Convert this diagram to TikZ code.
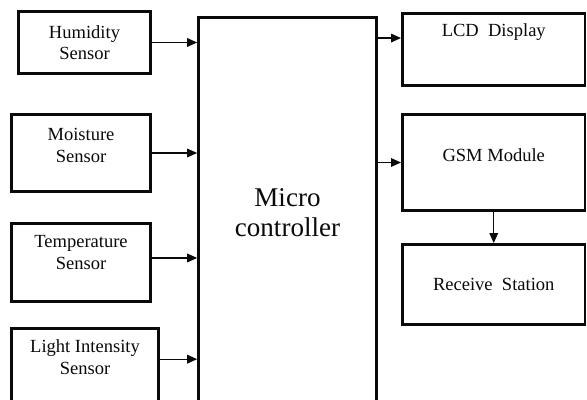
\documentclass[tikz,border=0pt]{standalone}
\usepackage{fontspec}
\setmainfont{Liberation Serif}
\usetikzlibrary{
    arrows.meta,
    positioning
}
\definecolor{ink}{RGB}{10,10,10}
\tikzset{
    block/.style={
        rectangle,
        draw=ink,
        line width=2.2pt,
        fill=white,
        inner sep=0pt,
        align=center,
        text=ink,
        font=\fontsize{13.9}{16}\selectfont
    },
    blocktext/.style={
        align=center,
        text=ink,
        font=\fontsize{13.9}{16}\selectfont
    },
    mcu/.style={
        block,
        line width=2pt,
        font=\fontsize{20.3}{22.5}\selectfont
    },
    link/.style={
        -{Triangle[length=7.5pt,width=6.5pt]},
        draw=ink,
        line width=0.9pt
    }
}

\begin{document}
\begin{tikzpicture}[x=0.75pt, y=-0.75pt]

\useasboundingbox (0,0) rectangle (587,400);
\clip (0,0) rectangle (587,400);

% sensors
\node[block, minimum width=99pt, minimum height=46.5pt] (hum) at (84.5,42.5) {Humidity\\Sensor};
\node[block, minimum width=104.25pt, minimum height=57.75pt,
      label={[blocktext, yshift=5.6pt]center:Moisture\\Sensor}] (moist) at (81,153) {};
\node[block, minimum width=104.25pt, minimum height=58.5pt,
      label={[blocktext, yshift=7.5pt]center:Temperature\\Sensor}] (temp) at (81,262.5) {};
\node[block, minimum width=110.25pt, minimum height=60pt,
      label={[blocktext, yshift=8.6pt]center:Light Intensity\\Sensor}] (light) at (85,368.5) {};

% controller
\node[mcu, minimum width=133.5pt, minimum height=293.25pt] (mcu) at (287.5,213) {Micro\\controller};

% outputs
\node[block, minimum width=136.9pt, minimum height=54pt,
      label={[blocktext, yshift=13pt]center:LCD\ \ Display}] (lcd) at (493.75,49.5) {};
\node[block, minimum width=136.9pt, minimum height=72pt,
      label={[blocktext, yshift=5.6pt]center:GSM Module}] (gsm) at (493.75,162.5) {};
\node[block, minimum width=136.9pt, minimum height=60pt] (rec) at (493.75,284.5) {Receive\ \ Station};

% connectors
\draw[link] (hum.east) -- (hum.east -| mcu.west);
\draw[link] (moist.east) -- (moist.east -| mcu.west);
\draw[link] ([yshift=3.4pt]temp.east) -- ([yshift=3.4pt]temp.east -| mcu.west);
\draw[link] ([yshift=7pt]light.east) -- ([yshift=7pt]light.east -| mcu.west);
\draw[link] ([yshift=8.6pt]lcd.west -| mcu.east) -- ([yshift=8.6pt]lcd.west);
\draw[link] (gsm.west -| mcu.east) -- (gsm.west);
\draw[link] (gsm.south) -- (rec.north);

\end{tikzpicture}
\end{document}
